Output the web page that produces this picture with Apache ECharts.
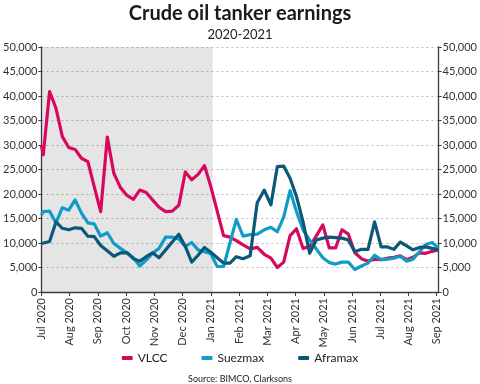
<!DOCTYPE html>
<html>
<head>
<meta charset="utf-8">
<script src="https://cdn.jsdelivr.net/npm/echarts@6/dist/echarts.min.js"></script>
<style>html,body{margin:0;padding:0;background:#fff}#c{width:480px;height:384px}</style>
</head>
<body>
<div id="c"></div>
<script>
// Tick labels for the monthly x axis
const monthLabels = ['Jul 2020','Aug 2020','Sep 2020','Oct 2020','Nov 2020','Dec 2020','Jan 2021','Feb 2021','Mar 2021','Apr 2021','May 2021','Jun 2021','Jul 2021','Aug 2021','Sep 2021'];
// Dates: first point on 1 Jul 2020, then weekly from 3 Jul 2020
const firstDate = '2020-07-01';
const weeklyStart = '2020-07-03';
const weekCount = 62;
const shadeEnd = '2021-01-03';

// USD/day earnings (first value = 1 Jul 2020, then weekly)
const vlcc = [29900, 28000, 40900, 37500, 31700, 29500, 29100, 27300, 26600, 21500, 16400,
  31600, 24200, 21300, 19700, 18900, 20800, 20300, 18800, 17300, 16400,
  16500, 17700, 24500, 22900, 24000, 25800, 21500, 16500, 11500, 11200,
  10500, 9600, 8800, 9100, 7700, 6900, 5000, 6100, 11500, 12900,
  8900, 9300, 11400, 13700, 9000, 9000, 12700, 11800, 8000, 6800,
  6300, 6700, 6600, 6900, 7100, 7400, 6600, 7100, 8000, 7900, 8300, 8600];
const suezmax = [15700, 16400, 16500, 14100, 17200, 16700, 18800, 16100, 14100, 13900, 11400,
  12100, 9900, 8900, 8000, 7000, 5300, 6500, 7900, 8900, 11200,
  11200, 10800, 9300, 10100, 8600, 8200, 7800, 5200, 5200, 10000,
  14800, 11400, 11700, 11800, 12700, 13200, 12300, 15300, 20700, 16400,
  12700, 10600, 8800, 7000, 6000, 5700, 6100, 6100, 4600, 5300,
  5900, 7500, 6600, 6700, 6900, 7300, 6300, 6700, 8200, 9700, 10100, 8900];
const aframax = [9900, 10000, 10300, 14300, 13000, 12700, 13100, 13000, 11400, 11300, 9500,
  8400, 7300, 8000, 8000, 6800, 6300, 7200, 8000, 7000, 8600,
  10200, 11800, 9300, 6100, 7500, 9100, 8100, 7000, 5900, 5900,
  7200, 6800, 7400, 18200, 20800, 17800, 25600, 25700, 23200, 19500,
  14300, 7900, 10600, 11000, 11200, 11100, 11000, 10600, 8200, 8700,
  8700, 14300, 9200, 9200, 8700, 10200, 9400, 8600, 9100, 9200, 8900, 8600];

const seriesNames = ['VLCC', 'Suezmax', 'Aframax'];
const colors = ['#D6095F', '#119CC8', '#0B5878'];

// month position (0 = 1 Jul 2020), months evenly spaced on the axis
function monthPos(d) {
  const y = d.getUTCFullYear(), m = d.getUTCMonth(), day = d.getUTCDate();
  const dim = new Date(Date.UTC(y, m + 1, 0)).getUTCDate();
  return (y - 2020) * 12 + (m - 6) + (day - 1) / dim;
}
const dates = [new Date(firstDate + 'T00:00:00Z')];
const ws = new Date(weeklyStart + 'T00:00:00Z');
for (let i = 0; i < weekCount; i++) dates.push(new Date(ws.getTime() + i * 7 * 86400000));
const xs = dates.map(monthPos);
const xMax = xs[xs.length - 1];

function pairs(vals) { return vals.map((v, i) => [xs[i], v]); }

const font = 'Lato, "Open Sans", sans-serif';
const chart = echarts.init(document.getElementById('c'));
const valueAxisCommon = {
  type: 'value', min: 0, max: 50000, interval: 5000,
  axisLine: { show: true, lineStyle: { color: '#3a3a3a', width: 1.3 } },
  axisTick: { show: true, length: 3, lineStyle: { color: '#3a3a3a' } },
  axisLabel: { color: '#333', fontSize: 11, fontFamily: font, margin: 4,
    formatter: v => v.toLocaleString('en-US') }
};
chart.setOption({
  animation: false,
  textStyle: { fontFamily: font },
  title: [
    { text: 'Crude oil tanker earnings', left: 'center', top: -1,
      textStyle: { fontSize: 20, fontWeight: 'bold', color: '#1a1a1a', fontFamily: font } },
    { text: '2020-2021', left: 'center', top: 23,
      textStyle: { fontSize: 13, fontWeight: 'normal', color: '#222', fontFamily: font } },
    { text: 'Source: BIMCO, Clarksons', left: 'center', top: 370,
      textStyle: { fontSize: 9, fontWeight: 'normal', color: '#222', fontFamily: font } }
  ],
  legend: {
    top: 347, left: 'center', itemGap: 34, itemWidth: 11, itemHeight: 4,
    icon: 'roundRect',
    textStyle: { fontSize: 12, color: '#222', fontFamily: font },
    data: seriesNames
  },
  grid: { left: 40, right: 40, top: 47, bottom: 92 },
  xAxis: {
    type: 'value', min: 0, max: xMax, interval: 1,
    axisLine: { show: true, onZero: false, lineStyle: { color: '#3a3a3a', width: 1.3 } },
    axisTick: { show: true, length: 4, lineStyle: { color: '#3a3a3a' } },
    splitLine: { show: false },
    axisLabel: { rotate: 90, fontSize: 11, color: '#333', fontFamily: font, margin: 6,
      showMaxLabel: false,
      formatter: v => (Math.abs(v - Math.round(v)) < 1e-6 && monthLabels[Math.round(v)]) ? monthLabels[Math.round(v)] : '' }
  },
  yAxis: [
    Object.assign({}, valueAxisCommon, { position: 'left',
      splitLine: { show: true, lineStyle: { color: '#BDBDBD', type: [2, 3], width: 1 } } }),
    Object.assign({}, valueAxisCommon, { position: 'right', splitLine: { show: false } })
  ],
  series: [vlcc, suezmax, aframax].map((vals, k) => ({
    name: seriesNames[k], type: 'line', data: pairs(vals), yAxisIndex: 0,
    symbol: 'none', color: colors[k], z: 3 + k,
    lineStyle: { width: 3.2, color: colors[k], join: 'round' },
    markArea: k === 0 ? { silent: true,
      itemStyle: { color: 'rgba(0,0,0,0.1)' },
      data: [[{ xAxis: 0 }, { xAxis: monthPos(new Date(shadeEnd + 'T00:00:00Z')) }]] } : undefined
  }))
});
</script>
</body>
</html>
